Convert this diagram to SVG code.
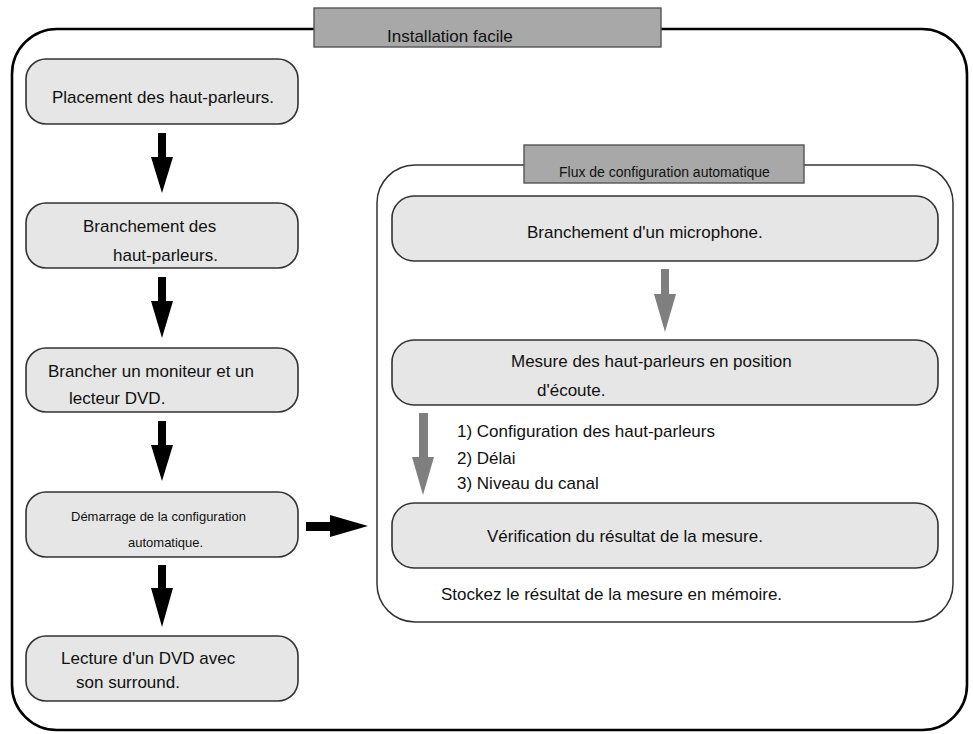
<svg xmlns="http://www.w3.org/2000/svg" width="973" height="734" viewBox="0 0 973 734">
<style>
text{font-family:"Liberation Sans",Arial,sans-serif;fill:#111;}
.t17{font-size:17px;}
.t14{font-size:14px;}
.t13{font-size:13px;}
.box{fill:#e6e6e6;stroke:#333;stroke-width:1.6;}
.title{fill:#a8a8a8;stroke:#555;stroke-width:1.4;}
.blk{fill:#000;}
.gry{fill:#7f7f7f;}
</style>
<rect width="973" height="734" fill="#fff"/>
<g id="outer-frame">
<rect x="12" y="29" width="955" height="701" rx="45" ry="45" fill="none" stroke="#000" stroke-width="2.6"/>
<rect class="title" x="314" y="8" width="347" height="39"/>
<text class="t17" x="387" y="42">Installation facile</text>
</g>
<g id="auto-frame">
<rect x="377" y="165" width="576" height="457" rx="38" ry="38" fill="none" stroke="#333" stroke-width="1.5"/>
<rect class="title" x="524" y="145" width="280" height="38"/>
<text class="t14" x="559" y="177">Flux de configuration automatique</text>
</g>
<g id="n1"><rect class="box" x="26" y="59" width="272" height="65" rx="20"/><text class="t17" x="52" y="103">Placement des haut-parleurs.</text></g>
<g id="n2"><rect class="box" x="26" y="203" width="272" height="65" rx="20"/><text class="t17" x="83" y="232">Branchement des</text><text class="t17" x="113" y="261">haut-parleurs.</text></g>
<g id="n3"><rect class="box" x="26" y="348" width="272" height="64" rx="20"/><text class="t17" x="48" y="377">Brancher un moniteur et un</text><text class="t17" x="69" y="404">lecteur DVD.</text></g>
<g id="n4"><rect class="box" x="26" y="492" width="272" height="65" rx="20"/><text class="t13" x="71" y="521">Démarrage de la configuration</text><text class="t13" x="128" y="547">automatique.</text></g>
<g id="n5"><rect class="box" x="26" y="636" width="272" height="65" rx="20"/><text class="t17" x="61" y="664">Lecture d'un DVD avec</text><text class="t17" x="76" y="688">son surround.</text></g>
<g id="r1"><rect class="box" x="392" y="196" width="546" height="65" rx="22"/><text class="t17" x="527" y="238">Branchement d'un microphone.</text></g>
<g id="r2"><rect class="box" x="392" y="340" width="546" height="65" rx="22"/><text class="t17" x="511" y="367">Mesure des haut-parleurs en position</text><text class="t17" x="537" y="396">d'écoute.</text></g>
<g id="r3"><rect class="box" x="392" y="503" width="546" height="65" rx="22"/><text class="t17" x="487" y="542">Vérification du résultat de la mesure.</text></g>
<g id="notes">
<text class="t17" x="457" y="437">1) Configuration des haut-parleurs</text>
<text class="t17" x="457" y="464">2) Délai</text>
<text class="t17" x="457" y="489">3) Niveau du canal</text>
<text class="t17" x="441" y="600">Stockez le résultat de la mesure en mémoire.</text>
</g>
<g id="connectors">
<path class="blk" d="M158,133H166V157H173L162,193L151,157H158Z"/>
<path class="blk" d="M158,277H166V301H173L162,338L151,301H158Z"/>
<path class="blk" d="M158,421H166V445H173L162,481L151,445H158Z"/>
<path class="blk" d="M158,565H166V588H173L162,627L151,588H158Z"/>
<path class="blk" d="M306,522H330V515L368,526L330,537V531H306Z"/>
<path class="gry" d="M661,269H669V294H676L665,332L654,294H661Z"/>
<path class="gry" d="M419,413H428V457H434L423,495L412,457H419Z"/>
</g>
</svg>
